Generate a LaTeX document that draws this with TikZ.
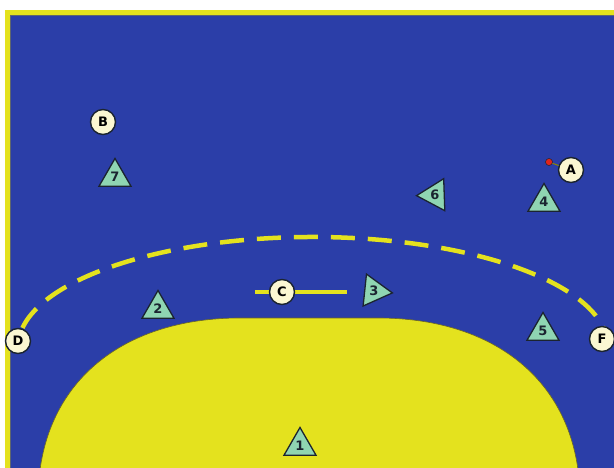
\documentclass[tikz,border=0pt]{standalone}
\usepackage{fontspec}
\setmainfont{DejaVu Sans}
\usetikzlibrary{shapes.geometric}
\definecolor{court}{HTML}{2B3EA8}
\definecolor{courtyellow}{HTML}{E4E21E}
\definecolor{mint}{HTML}{8FD5B2}
\definecolor{cream}{HTML}{FBF7D2}
\definecolor{outline}{HTML}{1B2430}
\definecolor{ballred}{HTML}{E0241C}
\begin{document}
\begin{tikzpicture}[x=1pt,y=-1pt,
  player/.style={regular polygon, regular polygon sides=3, minimum size=37pt, inner sep=0pt,
    fill=mint, draw=outline, line width=1.3pt, text=outline,
    font=\bfseries\fontsize{13}{13}\selectfont},
  marker/.style={circle, minimum size=25pt, inner sep=0pt, fill=cream, draw=outline,
    line width=1.4pt, text=black, font=\bfseries\fontsize{13}{13}\selectfont},
  yline/.style={draw=courtyellow, line width=4.5pt},
]
\useasboundingbox (0,0) rectangle (614,468);
\fill[white] (0,0) rectangle (614,468);
\begin{scope}
  \clip (0,0) rectangle (614,468);
  \fill[courtyellow] (5,10) rectangle (620,480);
  \fill[court] (10,15) rectangle (620,480);
  \draw[outline!70, line width=0.6pt] (10,480) -- (10,15) -- (620,15);
  % goal area
  \path[fill=courtyellow, draw=olive!70!black, line width=0.6pt]
    (38,500) .. controls (38,385) and (120,318) .. (240,318) -- (378,318)
    .. controls (498,318) and (580,385) .. (580,500) -- cycle;
  % free-throw line
  \draw[courtyellow, line width=4.5pt, dash pattern=on 24pt off 13pt]
    (313,347) ++(190:295 and 110) arc[start angle=190, end angle=350, x radius=295, y radius=110];
\end{scope}
% C line
\coordinate (cl) at (255,292);
\coordinate (cr) at (347,292);
\draw[yline, line width=4pt] (cl) -- (cr);
% players
\node[player] (p7) at (115,177) {7};
\node[player, shape border rotate=92] (p6) at (435,195) {6};
\node[player] (p4) at (544,202) {4};
\node[player] (p2) at (158,309) {2};
\node[player, shape border rotate=-96] (p3) at (374,291) {3};
\node[player] (p5) at (543,331) {5};
\node[player] (p1) at (300,446) {1};
% markers
\node[marker] (B) at (103,122) {B};
\node[marker] (A) at (571,170) {A};
\node[marker] (C) at (282,292) {C};
\node[marker] (D) at (18,341) {D};
\node[marker] (F) at (602,339) {F};
% ball
\node[circle, fill=ballred, draw=outline, line width=0.5pt, minimum size=7pt, inner sep=0pt] (ball) at (549,162) {};
\draw[draw=olive, line width=1pt] (ball) -- (A);
\end{tikzpicture}
\end{document}
